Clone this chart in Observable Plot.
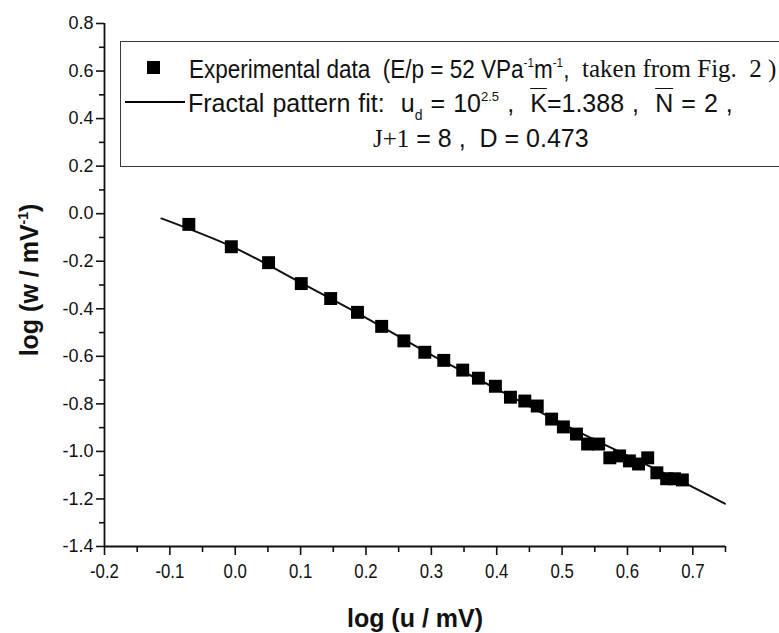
<!DOCTYPE html>
<html><head><meta charset="utf-8">
<script src="https://cdn.jsdelivr.net/npm/d3@7"></script>
<script src="https://cdn.jsdelivr.net/npm/@observablehq/plot@0.6"></script>
<style>
body{margin:0;background:#fff;}
#wrap{position:relative;width:779px;height:633px;overflow:hidden;background:#fff;}
#legend{position:absolute;left:120px;top:41px;width:720px;height:126px;border:1.5px solid #3a3a3a;box-sizing:border-box;font-family:"Liberation Sans",Arial,sans-serif;font-size:25px;color:#111;}
.row{position:absolute;white-space:nowrap;line-height:1;}
.cond{transform:scaleX(0.9);transform-origin:left center;}
.wide{word-spacing:1.1px;}
.serif{font-family:"Liberation Serif","Times New Roman",serif;}
.sq{position:absolute;width:13px;height:13px;background:#000;}
.ln{position:absolute;height:2px;background:#000;}
sup{font-size:13px;vertical-align:11px;}
sub{font-size:14px;vertical-align:-8px;}
.ov{text-decoration:overline;text-decoration-thickness:1px;}
</style>
</head><body>
<div id="wrap"></div>
<script>
// ---- data ----
const logU = [-0.071,-0.006,0.051,0.101,0.146,0.187,0.224,0.258,0.290,0.319,0.348,0.372,0.398,0.421,0.443,0.462,0.484,0.502,0.522,0.539,0.556,0.573,0.588,0.603,0.617,0.631,0.645,0.660,0.672,0.684];
const logW = [-0.045,-0.139,-0.206,-0.294,-0.357,-0.415,-0.474,-0.535,-0.583,-0.617,-0.658,-0.692,-0.726,-0.772,-0.788,-0.809,-0.864,-0.897,-0.927,-0.969,-0.969,-1.027,-1.019,-1.040,-1.053,-1.027,-1.090,-1.115,-1.115,-1.120];
const fitU = [-0.113,0.0,0.1,0.2,0.3,0.4,0.5,0.6,0.7,0.749];
const fitW = [-0.02,-0.145,-0.29,-0.438,-0.594,-0.737,-0.883,-1.018,-1.15,-1.22];
const xTicks = [-0.2,-0.1,0.0,0.1,0.2,0.3,0.4,0.5,0.6,0.7];
const xMinor = [-0.15,-0.05,0.05,0.15,0.25,0.35,0.45,0.55,0.65,0.75];
const yTicks = [-1.4,-1.2,-1.0,-0.8,-0.6,-0.4,-0.2,0.0,0.2,0.4,0.6,0.8];
const yMinor = [-1.3,-1.1,-0.9,-0.7,-0.5,-0.3,-0.1,0.1,0.3,0.5,0.7];

const pts = logU.map((u,i)=>({u, w: logW[i]}));
const fit = fitU.map((u,i)=>({u, w: fitW[i]}));
const fmt = d => d.toFixed(1);

const chart = Plot.plot({
  width: 779, height: 633,
  marginLeft: 104, marginRight: 54, marginTop: 23, marginBottom: 87,
  style: {fontFamily: "'Liberation Sans', Arial, sans-serif", fontSize: "18px", color: "#111", background: "#fff"},
  x: {domain: [-0.2, 0.75]},
  y: {domain: [-1.4, 0.8]},
  marks: [
    Plot.axisX({ticks: xMinor, tickSize: 6, tickFormat: () => "", label: null, strokeWidth: 1.6}),
    Plot.axisX({ticks: xTicks, tickSize: 9, tickPadding: 8, tickFormat: fmt, label: null, strokeWidth: 1.6}),
    Plot.axisY({ticks: yMinor, tickSize: 5, tickFormat: () => "", label: null, strokeWidth: 1.6}),
    Plot.axisY({ticks: yTicks, tickSize: 8, tickPadding: 3, tickFormat: fmt, label: null, strokeWidth: 1.6}),
    Plot.ruleY([-1.4], {x1: -0.2, x2: 0.75, strokeWidth: 1.8}),
    Plot.ruleX([-0.2], {y1: -1.4, y2: 0.8, strokeWidth: 1.8}),
    Plot.line(fit, {x: "u", y: "w", strokeWidth: 2, curve: "catmull-rom"}),
    Plot.dot(pts, {x: "u", y: "w", symbol: "square", r: 7.3, fill: "#000", stroke: "none"})
  ]
});
const wrap = document.getElementById("wrap");
wrap.appendChild(chart);

// tick label sizes
chart.querySelectorAll('[aria-label="y-axis tick label"]').forEach(g => g.setAttribute("font-size", 18));
chart.querySelectorAll('[aria-label="x-axis tick label"]').forEach(g => g.setAttribute("font-size", 20));
// condensed look for x tick labels: scale each label horizontally about its own anchor
chart.querySelectorAll('[aria-label="x-axis tick label"] text').forEach(t => {
  t.setAttribute("font-size", 20);
  const tr = t.getAttribute("transform");
  if (tr && /translate/.test(tr)) {
    t.setAttribute("transform", `${tr} scale(0.84,1)`);
  } else {
    const x = +t.getAttribute("x") || 0, y = +t.getAttribute("y") || 0;
    t.setAttribute("transform", `translate(${x},${y}) scale(0.84,1) translate(${-x},${-y})`);
  }
});
chart.querySelectorAll('[aria-label="y-axis tick label"] text').forEach(t => t.setAttribute("font-size", 18));

// axis titles as real SVG text
const svg = d3.select(chart);
const yt = svg.append("text")
  .attr("transform", "translate(38,280) rotate(-90)")
  .attr("text-anchor", "middle")
  .attr("font-family", "'Liberation Sans', Arial, sans-serif")
  .attr("font-weight", "bold").attr("font-size", 25).attr("fill", "#111");
yt.append("tspan").text("log (w / mV");
yt.append("tspan").attr("font-size", 14).attr("dy", -10).text("-1");
yt.append("tspan").attr("dy", 10).text(")");
svg.append("text")
  .attr("x", 415).attr("y", 627)
  .attr("text-anchor", "middle")
  .attr("font-family", "'Liberation Sans', Arial, sans-serif")
  .attr("font-weight", "bold").attr("font-size", 25).attr("fill", "#111")
  .text("log (u / mV)");

// legend
const lg = document.createElement("div");
lg.id = "legend";
lg.innerHTML = `
  <div class="sq" style="left:26px;top:19px"></div>
  <div class="row cond" style="left:68px;top:14px">Experimental data &nbsp;(E/p = 52 VPa<sup>-1</sup>m<sup>-1</sup>,</div>
  <div class="row serif" style="left:461px;top:14px">taken from Fig. &nbsp;2 )</div>
  <div class="ln" style="left:4px;width:60px;top:59px"></div>
  <div class="row wide" style="left:67px;top:48px">Fractal pattern fit: &nbsp;u<sub>d</sub> = 10<sup>2.5</sup> , &nbsp;<span class="ov">K</span>=1.388 , &nbsp;<span class="ov">N</span> = 2 ,</div>
  <div class="row" style="left:252px;top:84px"><span class="serif">J+1</span> = 8 , &nbsp;D = 0.473</div>
`;
wrap.appendChild(lg);
</script>
</body></html>
